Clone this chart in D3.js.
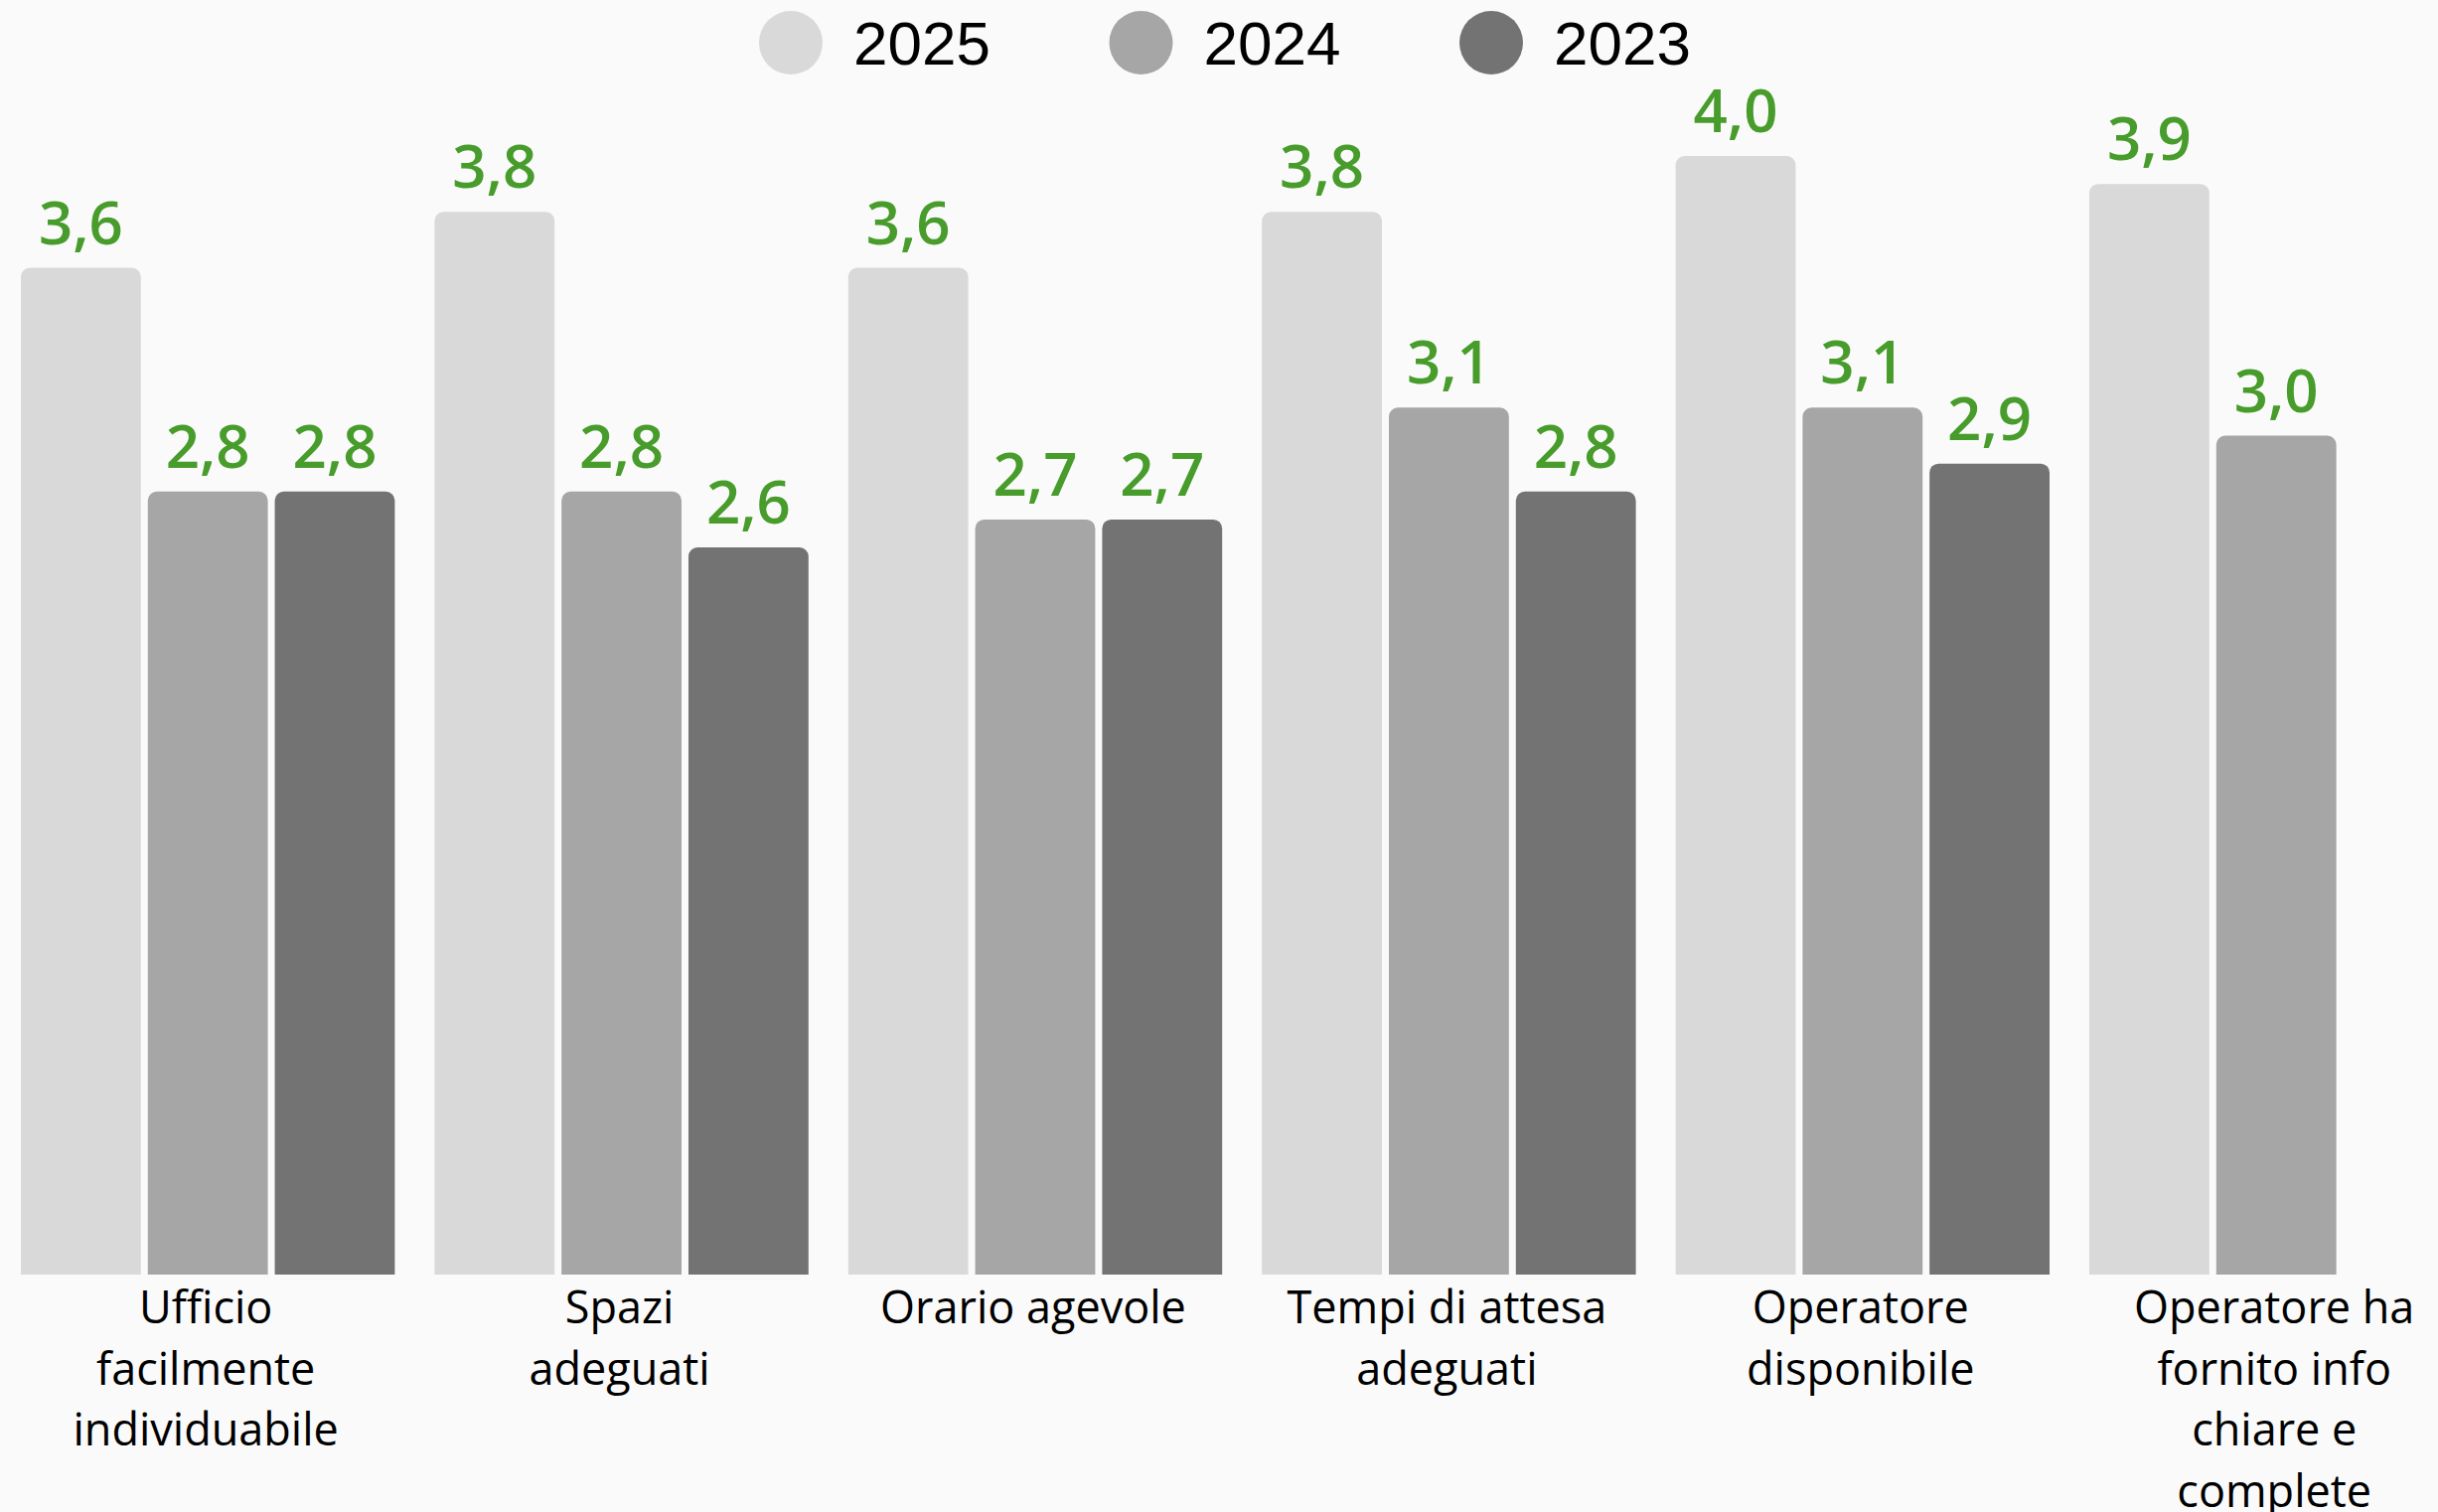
<!DOCTYPE html>
<html>
<head>
<meta charset="utf-8">
<script src="https://cdn.jsdelivr.net/npm/d3@7"></script>
<style>
  html, body { margin: 0; padding: 0; background: #fafafa; }
  svg { display: block; }
</style>
</head>
<body>
<div id="chart"></div>
<script>
// data
var categories = [
  ['Ufficio', 'facilmente', 'individuabile'],
  ['Spazi', 'adeguati'],
  ['Orario agevole'],
  ['Tempi di attesa', 'adeguati'],
  ['Operatore', 'disponibile'],
  ['Operatore ha', 'fornito info', 'chiare e', 'complete']
];
var series = ['2025', '2024', '2023'];
var values2025 = [3.6, 3.8, 3.6, 3.8, 4.0, 3.9];
var values2024 = [2.8, 2.8, 2.7, 3.1, 3.1, 3.0];
var values2023 = [2.8, 2.6, 2.7, 2.8, 2.9, null];
var colors = ['#d9d9d9', '#a6a6a6', '#737373'];

var W = 2454, H = 1522;
var radius = 9;

var svg = d3.select('#chart').append('svg')
  .attr('width', W)
  .attr('height', H);

svg.append('rect').attr('width', W).attr('height', H).attr('fill', '#fafafa');

var catKeys = categories.map(function(c) { return c.join(' '); });
var allValues = [values2025, values2024, values2023];

// the plot runs a bit past the right edge (last group gets cut), like the original
var x0 = d3.scaleBand().domain(catKeys).range([1, 2499.4])
  .paddingInner(40 / 416.4).paddingOuter(0.048);
var x1 = d3.scaleBand().domain(series).range([0, x0.bandwidth()])
  .paddingInner(7 / 128).paddingOuter(0);
var y = d3.scaleLinear().domain([0, 4]).range([1283, 157]);

function topRounded(x, yTop, w, h, r) {
  var p = d3.path();
  p.moveTo(x, yTop + h);
  p.lineTo(x, yTop + r);
  p.arcTo(x, yTop, x + r, yTop, r);
  p.lineTo(x + w - r, yTop);
  p.arcTo(x + w, yTop, x + w, yTop + r, r);
  p.lineTo(x + w, yTop + h);
  p.closePath();
  return p.toString();
}

var fmt = function(v) { return v.toFixed(1).replace('.', ','); };

var groups = svg.selectAll('g.group')
  .data(catKeys)
  .enter().append('g')
  .attr('class', 'group')
  .attr('transform', function(d) { return 'translate(' + x0(d) + ',0)'; });

groups.each(function(cat, i) {
  var g = d3.select(this);
  var bars = series.map(function(s, j) { return {s: s, v: allValues[j][i], c: colors[j]}; })
    .filter(function(b) { return b.v != null; });

  g.selectAll('path.bar').data(bars).enter().append('path')
    .attr('class', 'bar')
    .attr('fill', function(b) { return b.c; })
    .attr('d', function(b) {
      return topRounded(x1(b.s), y(b.v), x1.bandwidth(), y(0) - y(b.v), radius);
    });

  g.selectAll('text.val').data(bars).enter().append('text')
    .attr('class', 'val')
    .attr('x', function(b) { return x1(b.s) + x1.bandwidth() / 2; })
    .attr('y', function(b) { return y(b.v) - 24; })
    .attr('text-anchor', 'middle')
    .attr('font-family', 'Open Sans')
    .attr('font-weight', 600)
    .attr('font-size', 60)
    .attr('fill', '#479c2b')
    .text(function(b) { return fmt(b.v); });

  var lbl = g.append('text')
    .attr('text-anchor', 'middle')
    .attr('font-family', 'Open Sans')
    .attr('font-size', 45)
    .attr('fill', '#000');
  categories[i].forEach(function(line, k) {
    lbl.append('tspan')
      .attr('x', x0.bandwidth() / 2 - 2)
      .attr('y', 1332 + k * 61.5)
      .text(line);
  });
});

// legend
var legend = svg.append('g').attr('transform', 'translate(796,43)');
var items = legend.selectAll('g').data(series).enter().append('g')
  .attr('transform', function(d, i) { return 'translate(' + (i * 352.5) + ',0)'; });
items.append('circle').attr('r', 32).attr('fill', function(d, i) { return colors[i]; });
items.append('text')
  .attr('x', 63)
  .attr('y', 22)
  .attr('font-family', 'Liberation Sans, Arial, sans-serif')
  .attr('font-size', 62)
  .attr('fill', '#000')
  .text(function(d) { return d; });
</script>
</body>
</html>
